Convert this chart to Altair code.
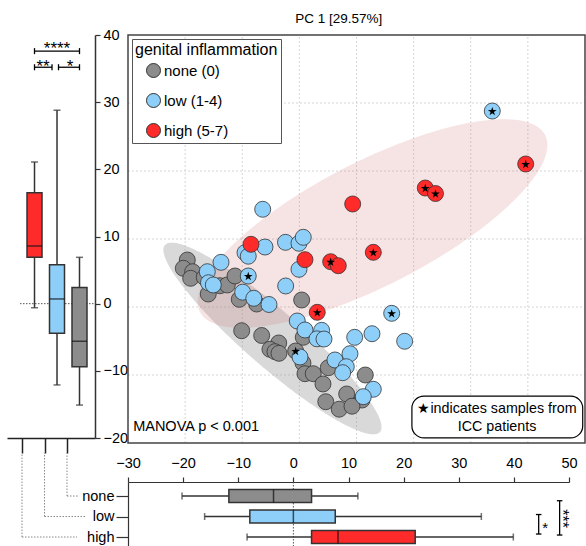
import altair as alt
import numpy as np
import pandas as pd

FONT = "Liberation Sans"

# ---------------- data ----------------
cat_keys = ["none", "low", "high"]
cat_legend = ["none (0)", "low (1-4)", "high (5-7)"]
palette = ["#8c8c8c", "#8ecffa", "#ff2a2a"]

none_x = [-19.62, -20.32, -18.68, -19.03, -16.65, -13.90, -12.62, -11.27, -15.95, -10.52,
          -7.47, 0.40, -10.10, -6.60, -3.62, -5.15, -4.27, -3.57, 0.68, -0.65,
          0.63, 0.98, 2.43, 5.06, 11.54, 4.13, 8.28, 10.96, 4.62, 6.97, 9.21]
none_y = [6.91, 5.69, 5.19, 4.22, 4.37, 3.13, 3.24, 4.56, 1.91, 1.13,
          0.44, 1.03, -3.49, -4.19, -5.29, -6.22, -6.57, -6.81, -4.46, -6.47,
          -8.24, -9.81, -9.81, -8.93, -10.0, -11.32, -12.79, -13.68, -13.93, -15.03, -14.59]
none_icc = [0, 0, 0, 0, 0, 0, 0, 0, 0, 0,
            0, 0, 0, 0, 0, 0, 0, 0, 0, 1,
            0, 0, 0, 0, 0, 0, 0, 0, 0, 0, 0]

low_x = [-6.42, -6.02, -2.43, -0.07, 0.68, -9.52, -8.95, -13.72, -0.07, -16.12,
         -15.91, -15.07, -8.95, -2.40, -9.93, -7.98, -5.32, 16.16, -0.37, 0.98,
         3.90, 3.08, 4.31, 9.68, 12.71, 18.43, 0.11, 6.23, 8.86, 8.21,
         7.58, 12.94, 11.19, 33.77]
low_y = [14.37, 8.82, 9.51, 9.37, 10.25, 7.99, 7.47, 6.57, 5.54, 5.19,
         3.57, 3.24, 4.56, 3.09, 2.18, 1.28, 0.37, -0.93, -2.06, -3.38,
         -3.43, -4.68, -4.71, -4.46, -3.93, -5.04, -7.35, -7.79, -6.87, -8.78,
         -9.66, -12.10, -13.19, 28.82]
low_icc = [0, 0, 0, 0, 0, 0, 0, 0, 0, 0,
           0, 0, 1, 0, 0, 0, 0, 1, 0, 0,
           0, 0, 0, 0, 0, 0, 0, 0, 0, 0,
           0, 0, 0, 1]

high_x = [-8.47, 0.98, 5.48, 6.81, 9.33, 12.94, 22.04, 23.83, 39.62, 3.13]
high_y = [9.22, 6.96, 6.66, 6.07, 15.15, 8.04, 17.50, 16.69, 21.03, -0.78]
high_icc = [0, 0, 1, 0, 0, 1, 1, 1, 1, 1]

# confidence ellipses: centre and two half-axis vectors (data units)
ell_none = {"c": (-4.71, -4.63), "a": (18.82, -13.75), "b": (3.22, 3.10)}
ell_high = {"c": (12.80, 12.28), "a": (30.20, 13.01), "b": (4.95, -8.12)}

# box plot summaries of PC2 (left, vertical) by group
vbox_cat = ["high", "low", "none"]
vbox_wlo = [-0.6, -12.1, -15.1]
vbox_q1 = [6.9, -4.4, -9.4]
vbox_med = [8.6, 0.7, -5.6]
vbox_q3 = [16.5, 5.8, 2.4]
vbox_whi = [21.1, 28.8, 6.9]

# box plot summaries of PC1 (bottom, horizontal) by group
hbox_cat = ["none", "low", "high"]
hbox_wlo = [-20.2, -16.1, -8.4]
hbox_q1 = [-11.7, -7.9, 3.3]
hbox_med = [-3.6, 0.0, 8.1]
hbox_q3 = [3.3, 7.6, 22.1]
hbox_whi = [11.7, 34.1, 39.9]

# significance brackets
vsig_from = ["high", "high", "low"]
vsig_to = ["none", "low", "none"]
vsig_level = [37.6, 35.2, 35.2]
vsig_text = ["****", "**", "*"]

hsig_from = ["low", "none"]
hsig_to = ["high", "high"]
hsig_pos = [44.5, 48.3]
hsig_text = ["*", "***"]

x_ticks = [-30, -20, -10, 0, 10, 20, 30, 40, 50]
y_ticks = [-20, -10, 0, 10, 20, 30, 40]

title_text = "PC 1 [29.57%]"
manova_text = "MANOVA p < 0.001"
note_lines = ["\u2605indicates samples from", "ICC patients"]

# ---------------- tables ----------------
pts = pd.DataFrame({
    "x": none_x + low_x + high_x,
    "y": none_y + low_y + high_y,
    "icc": none_icc + low_icc + high_icc,
    "grp": [cat_legend[0]] * len(none_x) + [cat_legend[1]] * len(low_x) + [cat_legend[2]] * len(high_x),
})
pts["ord"] = np.arange(len(pts))
stars = pts[pts["icc"] == 1]


def ellipse_band(e, n=181):
    cx, cy = e["c"]
    ax, ay = e["a"]
    bx, by = e["b"]
    R = np.hypot(ax, bx)
    phi = np.arctan2(bx, ax)
    s = np.linspace(0, np.pi, n)
    t1, t2 = phi + s, phi - s
    return pd.DataFrame({
        "x": cx + R * np.cos(s),
        "y": cy + ay * np.cos(t1) + by * np.sin(t1),
        "y2": cy + ay * np.cos(t2) + by * np.sin(t2),
    })


def star_path():
    parts = []
    for k in range(10):
        r = 1.0 if k % 2 == 0 else 0.382
        ang = np.deg2rad(-90 + 36 * k)
        parts.append(f"{'M' if k == 0 else 'L'}{r * np.cos(ang):.3f},{r * np.sin(ang) + 0.1:.3f}")
    return " ".join(parts) + " Z"


vbox = pd.DataFrame({"grp": vbox_cat, "wlo": vbox_wlo, "q1": vbox_q1, "med": vbox_med,
                     "q3": vbox_q3, "whi": vbox_whi})
hbox = pd.DataFrame({"grp": hbox_cat, "wlo": hbox_wlo, "q1": hbox_q1, "med": hbox_med,
                     "q3": hbox_q3, "whi": hbox_whi})

# ---------------- layout (pixel ranges of the three panels) ----------------
W, H = 586, 546
SC_X, SC_Y = [128, 585], [443, 35]       # scatter panel
LB_X, LB_Y = [7, 95], [438, 35]          # left box plot panel
BB_X, BB_Y = [128, 569], [482, 546]      # bottom box plot panel

DARK = "#333333"
box_color = alt.Color("grp:N", scale=alt.Scale(domain=cat_keys, range=palette), legend=None)

xS_scale = alt.Scale(domain=[-30, 50], range=SC_X, nice=False, zero=False)
yS_scale = alt.Scale(domain=[-20, 40], range=SC_Y, nice=False, zero=False)
xL_scale = alt.Scale(type="point", domain=vbox_cat, range=LB_X, padding=0.956, align=0.349)
yL_scale = alt.Scale(domain=[-20, 40], range=LB_Y, nice=False, zero=False)
xB_scale = alt.Scale(domain=[-30, 50], range=BB_X, nice=False, zero=False)
yB_scale = alt.Scale(type="point", domain=hbox_cat, range=BB_Y, padding=0.561, align=0.61)


def enc(field, ch, scale, axis=None):
    cls = alt.X if ch == "x" else alt.Y
    return cls(field, scale=scale, axis=axis, title=None)


def xs(f):
    return enc(f, "x", xS_scale)


def ys(f):
    return enc(f, "y", yS_scale)


# ---------------- scatter ----------------
grid_v = pd.DataFrame({"g": x_ticks[1:-1], "lo": -20, "hi": 40})
grid_h = pd.DataFrame({"g": y_ticks[1:-1], "lo": -30, "hi": 50})
s_grid_v = alt.Chart(grid_v).mark_rule(color="#d6d6d6", strokeDash=[2, 2], strokeWidth=1).encode(
    x=xs("g:Q"), y=ys("lo:Q"), y2="hi:Q")
s_grid_h = alt.Chart(grid_h).mark_rule(color="#d6d6d6", strokeDash=[2, 2], strokeWidth=1).encode(
    y=ys("g:Q"), x=xs("lo:Q"), x2="hi:Q")

ell_gray = alt.Chart(ellipse_band(ell_none)).mark_area(color="#999999", opacity=0.37).encode(
    x=xs("x:Q"), y=ys("y:Q"), y2="y2:Q")
ell_red = alt.Chart(ellipse_band(ell_high)).mark_area(color="#cc6666", opacity=0.18).encode(
    x=xs("x:Q"), y=ys("y:Q"), y2="y2:Q")

frame = alt.Chart(pd.DataFrame({"x": [-30], "x2": [50], "y": [-20], "y2": [40]})).mark_rect(
    fillOpacity=0, stroke="#444444", strokeWidth=1.5).encode(
    x=xs("x:Q"), x2="x2:Q", y=ys("y:Q"), y2="y2:Q")

points = alt.Chart(pts).mark_circle(size=256, opacity=1, stroke=DARK, strokeWidth=0.8).encode(
    x=xs("x:Q"), y=ys("y:Q"),
    color=alt.Color("grp:N", scale=alt.Scale(domain=cat_legend, range=palette),
                    legend=alt.Legend(title="genital inflammation", orient="none", legendX=132, legendY=39,
                                      padding=3, fillColor="white", strokeColor="#555555",
                                      titleFontSize=16, titleFontWeight="normal", titleColor="black",
                                      titlePadding=5, labelFontSize=15, labelColor="black",
                                      rowPadding=11, symbolSize=196, symbolType="circle",
                                      symbolStrokeColor=DARK, symbolStrokeWidth=1,
                                      symbolOffset=11, labelOffset=3)),
    order=alt.Order("ord:Q"),
)

star_layer = alt.Chart(stars).mark_point(shape=star_path(), filled=True, color="black", size=85,
                                         opacity=1, strokeWidth=0).encode(x=xs("x:Q"), y=ys("y:Q"))

manova = alt.Chart(pd.DataFrame({"x": [-29.1], "y": [-18.2], "t": [manova_text]})).mark_text(
    align="left", baseline="alphabetic", fontSize=14.5, color="black").encode(
    x=xs("x:Q"), y=ys("y:Q"), text="t:N")

note_box = alt.Chart(pd.DataFrame({"x": [19.7], "x2": [49.6], "y": [-13.1], "y2": [-19.25]})).mark_rect(
    cornerRadius=12, fill="white", stroke="black", strokeWidth=1.2).encode(
    x=xs("x:Q"), x2="x2:Q", y=ys("y:Q"), y2="y2:Q")
note_text = alt.Chart(pd.DataFrame({"x": [34.6, 34.6], "y": [-15.6, -18.2], "t": note_lines})).mark_text(
    align="center", baseline="alphabetic", fontSize=14.3, color="black").encode(
    x=xs("x:Q"), y=ys("y:Q"), text="t:N")

title_mark = alt.Chart(pd.DataFrame({"x": [6.9], "y": [41.8], "t": [title_text]})).mark_text(
    align="center", baseline="alphabetic", fontSize=13.5, color="black").encode(
    x=xs("x:Q"), y=ys("y:Q"), text="t:N")

# ---------------- left vertical boxplot ----------------
xL_axis = alt.Axis(orient="bottom", offset=-(H - LB_Y[0]), labels=False, title=None, tickSize=15, grid=False,
                   domainColor="#222222", tickColor="#222222", domainWidth=1.5, tickWidth=1.5)
yL_axis = alt.Axis(orient="right", offset=-(W - LB_X[1]), values=y_ticks, tickSize=5, labelPadding=3,
                   title=None, grid=False, domainColor=DARK, tickColor=DARK, domainWidth=1.5, tickWidth=1.2,
                   labelFontSize=14.5, labelColor="black", labelFlush=False)
BOFF = 12.5


def xl(f, axis=None):
    return enc(f, "x", xL_scale, axis)


def yl(f, axis=None):
    return enc(f, "y", yL_scale, axis)


vb = alt.Chart(vbox)
l_whisk = vb.mark_rule(xOffset=BOFF, color=DARK, strokeWidth=1.5).encode(
    x=xl("grp:N", xL_axis), y=yl("wlo:Q", yL_axis), y2="whi:Q")
l_cap1 = vb.mark_tick(xOffset=BOFF, size=7, thickness=1.5, color=DARK).encode(x=xl("grp:N"), y=yl("wlo:Q"))
l_cap2 = vb.mark_tick(xOffset=BOFF, size=7, thickness=1.5, color=DARK).encode(x=xl("grp:N"), y=yl("whi:Q"))
l_box = vb.mark_bar(xOffset=BOFF, size=15, stroke=DARK, strokeWidth=1.5, opacity=1).encode(
    x=xl("grp:N"), y=yl("q1:Q"), y2="q3:Q", color=box_color)
l_med = vb.mark_tick(xOffset=BOFF, size=15, thickness=1.5, color="#111111").encode(x=xl("grp:N"), y=yl("med:Q"))
l_zero = alt.Chart(pd.DataFrame({"v": [0]})).mark_rule(color="#555555", strokeDash=[1.5, 1.5], strokeWidth=1).encode(
    y=yl("v:Q"), x=alt.value(20), x2=alt.value(LB_X[1]))

vsig_style = [
    {"x0": 12.5, "x1": 12.5, "tcat": "low", "tdx": 12.5, "tdy": 3},
    {"x0": 12.5, "x1": 7.5, "tcat": "high", "tdx": 21, "tdy": 4.5},
    {"x0": 14.0, "x1": 12.5, "tcat": "none", "tdx": 3, "tdy": 4.5},
]
l_sig = []
for i in range(len(vsig_text)):
    st = vsig_style[i]
    d = pd.DataFrame({"a": [vsig_from[i]], "b": [vsig_to[i]], "y": [vsig_level[i]],
                      "ylo": [vsig_level[i] - 0.45], "yhi": [vsig_level[i] + 0.45],
                      "tc": [st["tcat"]], "t": [vsig_text[i]]})
    c = alt.Chart(d)
    l_sig.append(c.mark_rule(xOffset=st["x0"], x2Offset=st["x1"], color="black", strokeWidth=1.3).encode(
        x=xl("a:N"), x2="b:N", y=yl("y:Q")))
    l_sig.append(c.mark_rule(xOffset=st["x0"], color="black", strokeWidth=1.3).encode(
        x=xl("a:N"), y=yl("ylo:Q"), y2="yhi:Q"))
    l_sig.append(c.mark_rule(xOffset=st["x1"], color="black", strokeWidth=1.3).encode(
        x=xl("b:N"), y=yl("ylo:Q"), y2="yhi:Q"))
    l_sig.append(c.mark_text(dx=st["tdx"], dy=st["tdy"], align="center", baseline="alphabetic",
                             fontSize=17, color="black").encode(x=xl("tc:N"), y=yl("y:Q"), text="t:N"))

# ---------------- bottom horizontal boxplot ----------------
xB_axis = alt.Axis(orient="top", offset=-BB_Y[0], values=x_ticks, tickSize=5, labelPadding=7, title=None,
                   grid=False, domainColor=DARK, tickColor=DARK, domainWidth=1.2, tickWidth=1.2,
                   labelFontSize=14.5, labelColor="black", labelFlush=False, labelOverlap=False)
yB_axis = alt.Axis(orient="left", offset=-BB_X[0], title=None, tickSize=12, labelPadding=2, grid=False,
                   domainColor=DARK, tickColor=DARK, domainWidth=1.2, tickWidth=1.2,
                   labelFontSize=14.5, labelColor="black")


def xb(f, axis=None):
    return enc(f, "x", xB_scale, axis)


def yb(f, axis=None):
    return enc(f, "y", yB_scale, axis)


hb = alt.Chart(hbox)
b_zero = alt.Chart(pd.DataFrame({"v": [0]})).mark_rule(color="#555555", strokeDash=[1.5, 1.5], strokeWidth=1).encode(
    x=xb("v:Q"), y=alt.value(BB_Y[0]), y2=alt.value(BB_Y[1]))
b_whisk = hb.mark_rule(color=DARK, strokeWidth=1.5).encode(
    x=xb("wlo:Q", xB_axis), x2="whi:Q", y=yb("grp:N", yB_axis))
b_cap1 = hb.mark_tick(size=7, thickness=1.5, color=DARK).encode(x=xb("wlo:Q"), y=yb("grp:N"))
b_cap2 = hb.mark_tick(size=7, thickness=1.5, color=DARK).encode(x=xb("whi:Q"), y=yb("grp:N"))
b_box = hb.mark_bar(size=13, stroke=DARK, strokeWidth=1.5, opacity=1).encode(
    x=xb("q1:Q"), x2="q3:Q", y=yb("grp:N"), color=box_color)
b_med = hb.mark_tick(size=13, thickness=1.5, color="#111111").encode(x=xb("med:Q"), y=yb("grp:N"))

hsig_style = [
    {"y0": -2, "y1": -3, "tx": 45.7, "tcat": "high", "tyoff": -4, "angle": 0, "fs": 15},
    {"y0": 4.7, "y1": -2, "tx": 48.8, "tcat": "low", "tyoff": 2, "angle": 90, "fs": 16},
]
b_sig = []
for i in range(len(hsig_text)):
    st = hsig_style[i]
    d = pd.DataFrame({"x": [hsig_pos[i]], "xa": [hsig_pos[i] - 0.5], "xb": [hsig_pos[i] + 0.5],
                      "a": [hsig_from[i]], "b": [hsig_to[i]], "tx": [st["tx"]], "tc": [st["tcat"]],
                      "t": [hsig_text[i]]})
    c = alt.Chart(d)
    b_sig.append(c.mark_rule(yOffset=st["y0"], y2Offset=st["y1"], color="black", strokeWidth=1.3).encode(
        x=xb("x:Q"), y=yb("a:N"), y2="b:N"))
    b_sig.append(c.mark_rule(yOffset=st["y0"], color="black", strokeWidth=1.3).encode(
        x=xb("xa:Q"), x2="xb:Q", y=yb("a:N")))
    b_sig.append(c.mark_rule(yOffset=st["y1"], color="black", strokeWidth=1.3).encode(
        x=xb("xa:Q"), x2="xb:Q", y=yb("b:N")))
    if st["angle"] == 0:
        tm = c.mark_text(yOffset=st["tyoff"], align="center", baseline="alphabetic",
                         fontSize=st["fs"], color="black")
    else:
        tm = c.mark_text(yOffset=st["tyoff"], angle=st["angle"], align="center", baseline="middle",
                         fontSize=st["fs"], color="black")
    b_sig.append(tm.encode(x=xb("tx:Q"), y=yb("tc:N"), text="t:N"))

# ---------------- connectors between the two boxplots ----------------
conn_df = pd.DataFrame({"grp": cat_keys})
conn_end = {"none": 78, "low": 85, "high": 77}
conn_layers = [alt.Chart(conn_df).mark_rule(color="#888888", strokeDash=[1.5, 1.5], strokeWidth=1).encode(
    x=xl("grp:N"), y=yb("grp:N"), y2=alt.value(453))]
for g in cat_keys:
    conn_layers.append(
        alt.Chart(conn_df).transform_filter(alt.datum.grp == g).mark_rule(
            color="#888888", strokeDash=[1.5, 1.5], strokeWidth=1).encode(
            x=xl("grp:N"), x2=alt.value(conn_end[g]), y=yb("grp:N")))

# ---------------- assemble ----------------
layers = [s_grid_v, s_grid_h, ell_gray, ell_red, frame, points, star_layer, manova, note_box, note_text,
          title_mark,
          l_zero, l_whisk, l_cap1, l_cap2, l_box, l_med, *l_sig,
          b_zero, b_whisk, b_cap1, b_cap2, b_box, b_med, *b_sig,
          *conn_layers]

chart = alt.layer(*layers).resolve_scale(
    x="independent", y="independent", color="independent").resolve_axis(
    x="independent", y="independent").properties(
    width=W, height=H, autosize=alt.AutoSizeParams(type="none"), padding=0,
).configure(font=FONT).configure_view(stroke="transparent").configure_axis(
    labelFont=FONT, labelColor="black").configure_legend(
    labelFont=FONT, titleFont=FONT).configure_text(font=FONT)

chart.save("out.html", embed_options={"renderer": "svg", "actions": False})
